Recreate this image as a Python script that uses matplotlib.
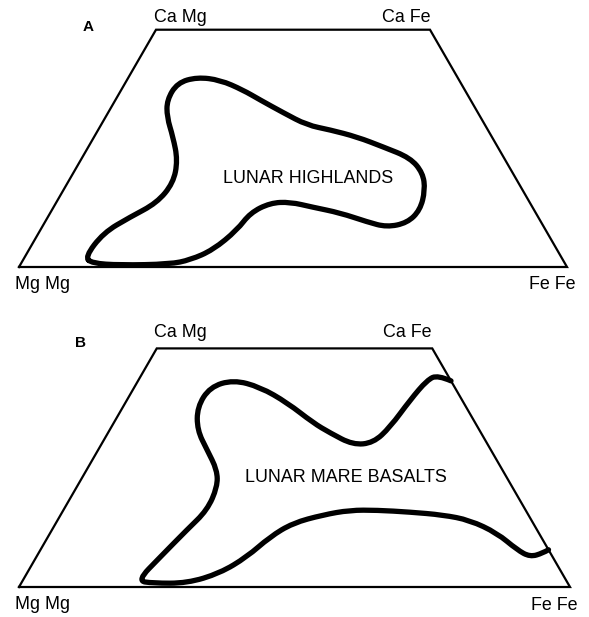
import numpy as np
import matplotlib.pyplot as plt
from matplotlib.path import Path
from matplotlib.patches import PathPatch

plt.rcParams['font.family'] = ['Liberation Sans', 'DejaVu Sans']

# pyroxene quadrilateral corners, Wo % and Fs %
quad_wo = [0, 50, 50, 0]
quad_fs = [0, 0, 50, 100]
corner_labels = ['Mg Mg', 'Ca Mg', 'Ca Fe', 'Fe Fe']

# lunar highlands field outline (closed), Wo % / Fs %
high_wo = [2.1, 7.2, 10.5, 13.5, 17.7, 22.5, 27.4, 31.6, 35.2, 38.8, 40.0, 39.4,
           37.3, 35.2, 32.5, 29.9, 28.9, 27.4, 25.3, 23.0, 19.8, 16.2, 12.0, 9.3,
           8.4, 9.5, 11.4, 12.6, 13.7, 13.5, 11.4, 7.8, 3.6, 1.5, 0.6, 0.4, 0.8]
high_fs = [11.0, 11.8, 15.0, 18.4, 19.3, 17.7, 14.4, 11.2, 9.4, 9.5, 12.5, 17.0,
           22.2, 26.4, 32.0, 37.6, 42.3, 48.0, 53.8, 59.9, 63.8, 66.0, 67.2, 66.2,
           62.9, 58.8, 52.9, 47.3, 42.6, 39.1, 36.5, 35.9, 33.6, 30.5, 27.2, 18.2, 12.9]

# lunar mare basalts field outline (open, both ends on the Ca Fe - Fe Fe edge)
mare_wo = [7.8, 7.1, 6.3, 7.8, 11.3, 14.0, 15.1, 15.7, 16.1, 16.1, 15.1, 13.4,
           10.5, 6.3, 2.9, 0.8, 0.8, 1.3, 6.3, 12.0, 16.1, 21.0, 24.5, 28.7,
           32.9, 37.7, 41.9, 43.4, 41.9, 38.6, 34.4, 32.3, 29.8, 30.2, 33.5,
           39.2, 43.4, 44.4, 43.2]
mare_fs = [92.2, 91.5, 89.6, 86.5, 81.1, 74.8, 69.4, 63.1, 56.9, 52.0, 47.6, 43.0,
           40.3, 38.2, 35.0, 30.1, 23.9, 20.8, 22.5, 24.5, 26.1, 25.5, 23.7, 19.8,
           15.9, 13.5, 13.7, 17.2, 22.8, 29.4, 36.2, 40.3, 45.7, 49.2, 50.6,
           51.4, 52.4, 53.8, 56.8]


def to_xy(wo, fs):
    wo = np.asarray(wo, float) / 100
    fs = np.asarray(fs, float) / 100
    return np.column_stack([fs + wo / 2, wo * np.sqrt(3) / 2])


def smooth_path(pts, closed):
    # quadratic bezier through midpoints of the traced points
    verts, codes = [], []
    if closed:
        n = len(pts)
        mids = (pts + np.roll(pts, -1, axis=0)) / 2
        verts.append(mids[-1]); codes.append(Path.MOVETO)
        for i in range(n):
            verts += [pts[i], mids[i]]
            codes += [Path.CURVE3, Path.CURVE3]
    else:
        verts.append(pts[0]); codes.append(Path.MOVETO)
        for i in range(1, len(pts) - 1):
            end = pts[-1] if i == len(pts) - 2 else (pts[i] + pts[i + 1]) / 2
            verts += [pts[i], end]
            codes += [Path.CURVE3, Path.CURVE3]
    return Path(verts, codes)


def draw_panel(ax, wo, fs, closed):
    q = to_xy(quad_wo, quad_fs)
    ax.plot(np.append(q[:, 0], q[0, 0]), np.append(q[:, 1], q[0, 1]),
            color='black', lw=1.6, solid_joinstyle='miter')
    ax.add_patch(PathPatch(smooth_path(to_xy(wo, fs), closed), fill=False,
                           lw=3.8, edgecolor='black', capstyle='round',
                           joinstyle='round'))
    ax.axis('off')


fig = plt.figure(figsize=(5.89, 6.17), dpi=100)

axA = fig.add_axes([0, 317 / 617, 1, 300 / 617])
axA.set_xlim(-19 / 548, 570 / 548)
axA.set_ylim(-33 / 548, 267 / 548)
draw_panel(axA, high_wo, high_fs, True)

axB = fig.add_axes([0, 0, 1, 317 / 617])
axB.set_xlim(-19 / 551, 570 / 551)
axB.set_ylim(-30 / 551, 287 / 551)
draw_panel(axB, mare_wo, mare_fs, False)


def label(x, y, s, size=12.9, weight='normal'):
    fig.text(x / 589, 1 - y / 617, s, fontsize=size, fontweight=weight,
             ha='center', va='baseline')


# panel A text
label(88, 31, 'A', 11, 'bold')
label(180, 22, corner_labels[1])
label(406, 22, corner_labels[2])
label(42, 289, corner_labels[0])
label(552, 289, corner_labels[3])
label(308, 183, 'LUNAR HIGHLANDS')

# panel B text
label(81, 347, 'B', 11, 'bold')
label(180, 337, corner_labels[1])
label(407, 337, corner_labels[2])
label(42, 609, corner_labels[0])
label(554, 610, corner_labels[3])
label(346, 482, 'LUNAR MARE BASALTS')

fig.savefig('out.png', dpi=100)
